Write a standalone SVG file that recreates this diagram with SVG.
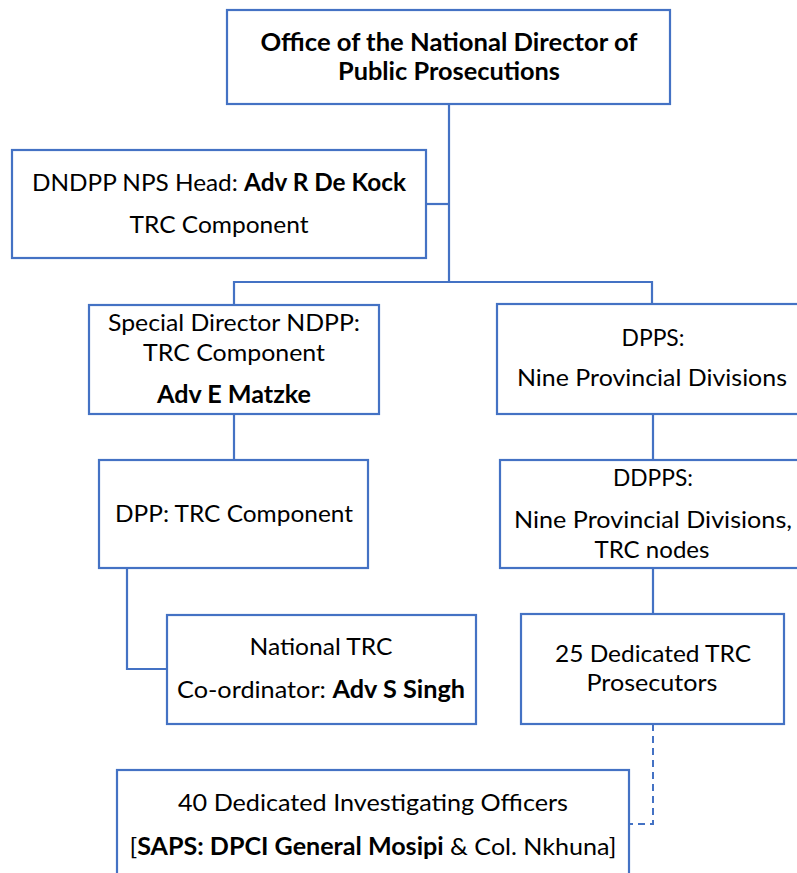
<svg xmlns="http://www.w3.org/2000/svg" width="797" height="873" viewBox="0 0 797 873">
<style>
.box{fill:#ffffff;stroke:#4472C4;stroke-width:2.2}
.ln{fill:none;stroke:#4472C4;stroke-width:2.2}
.dash{fill:none;stroke:#4472C4;stroke-width:2;stroke-dasharray:7 5}
text{font-family:Lato,"Open Sans","Liberation Sans",sans-serif;font-size:24px;fill:#000;text-anchor:middle}
.b{font-weight:bold}
</style>
<rect x="0" y="0" width="797" height="873" fill="#ffffff"/>
<g id="connectors">
<path class="ln" d="M449,104 V282"/>
<path class="ln" d="M426,204 H449"/>
<path class="ln" d="M234,304 V282 H652 V304"/>
<path class="ln" d="M234,414 V460"/>
<path class="ln" d="M653,414 V460"/>
<path class="ln" d="M127,568 V669 H167"/>
<path class="ln" d="M653,568 V615"/>
<path class="dash" d="M653,724 V824 H630"/>
</g>
<g id="node-ondpp">
<rect class="box" x="227" y="10" width="443" height="94"/>
<text class="b" x="449" y="51" textLength="377" lengthAdjust="spacingAndGlyphs">Office of the National Director of</text>
<text class="b" x="449" y="80" textLength="222" lengthAdjust="spacingAndGlyphs">Public Prosecutions</text>
</g>
<g id="node-dndpp">
<rect class="box" x="12" y="150" width="414" height="108"/>
<text x="219" y="191" textLength="374" lengthAdjust="spacingAndGlyphs">DNDPP NPS Head: <tspan class="b">Adv R De Kock</tspan></text>
<text x="219" y="233" textLength="179" lengthAdjust="spacingAndGlyphs">TRC Component</text>
</g>
<g id="node-special-director">
<rect class="box" x="89" y="305" width="290" height="109"/>
<text x="234" y="331" textLength="252" lengthAdjust="spacingAndGlyphs">Special Director NDPP:</text>
<text x="234" y="361" textLength="182" lengthAdjust="spacingAndGlyphs">TRC Component</text>
<text class="b" x="234" y="403" textLength="154" lengthAdjust="spacingAndGlyphs">Adv E Matzke</text>
</g>
<g id="node-dpps">
<rect class="box" x="497" y="304" width="320" height="110"/>
<text x="653" y="346" textLength="63" lengthAdjust="spacingAndGlyphs">DPPS:</text>
<text x="652" y="386" textLength="270" lengthAdjust="spacingAndGlyphs">Nine Provincial Divisions</text>
</g>
<g id="node-dpp">
<rect class="box" x="99" y="460" width="269" height="108"/>
<text x="234" y="522" textLength="238" lengthAdjust="spacingAndGlyphs">DPP: TRC Component</text>
</g>
<g id="node-ddpps">
<rect class="box" x="500" y="460" width="320" height="108"/>
<text x="653" y="486" textLength="80" lengthAdjust="spacingAndGlyphs">DDPPS:</text>
<text x="653" y="528" textLength="278" lengthAdjust="spacingAndGlyphs">Nine Provincial Divisions,</text>
<text x="652" y="558" textLength="115" lengthAdjust="spacingAndGlyphs">TRC nodes</text>
</g>
<g id="node-national-trc">
<rect class="box" x="167" y="615" width="309" height="109"/>
<text x="321" y="655" textLength="143" lengthAdjust="spacingAndGlyphs">National TRC</text>
<text x="321" y="698" textLength="288" lengthAdjust="spacingAndGlyphs">Co-ordinator: <tspan class="b">Adv S Singh</tspan></text>
</g>
<g id="node-prosecutors">
<rect class="box" x="521" y="614" width="263" height="110"/>
<text x="653" y="662" textLength="196" lengthAdjust="spacingAndGlyphs">25 Dedicated TRC</text>
<text x="652" y="691" textLength="131" lengthAdjust="spacingAndGlyphs">Prosecutors</text>
</g>
<g id="node-investigators">
<rect class="box" x="117" y="770" width="512" height="120"/>
<text x="373" y="811" textLength="390" lengthAdjust="spacingAndGlyphs">40 Dedicated Investigating Officers</text>
<text x="373" y="855" textLength="487" lengthAdjust="spacingAndGlyphs">[<tspan class="b">SAPS: DPCI General Mosipi</tspan> &amp; Col. Nkhuna]</text>
</g>
</svg>
